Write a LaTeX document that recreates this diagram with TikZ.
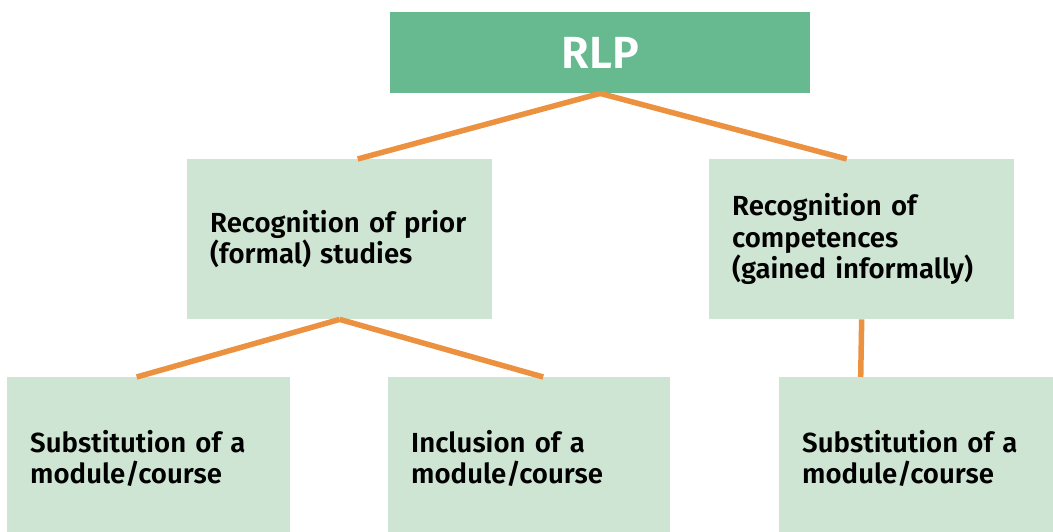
\documentclass[tikz,border=0pt]{standalone}
\usepackage{fontspec}
\setmainfont{Fira Sans}[UprightFont={* Medium},BoldFont={* SemiBold}]
\usetikzlibrary{calc}
\definecolor{dkgreen}{HTML}{67BA8F}
\definecolor{ltgreen}{HTML}{CFE5D3}
\definecolor{conn}{HTML}{EB913F}
\begin{document}
\begin{tikzpicture}[x=1pt,y=-1pt,
  box/.style={fill=ltgreen,draw=none,inner xsep=23pt,inner ysep=0pt,align=left,
    font=\bfseries\fontsize{27.6}{31.5}\selectfont,text=black,anchor=north west},
  link/.style={draw=conn,line width=5.5pt}]
\useasboundingbox (0,0) rectangle (1053,532);
\clip (0,0) rectangle (1053,532);
\node[fill=dkgreen,minimum width=420pt,minimum height=81pt,inner sep=0pt,anchor=north west,
  text=white,font=\bfseries\fontsize{45}{50}\selectfont] (rlp) at (390,12) {RLP};
\node[box,text width=259pt,minimum height=160pt] (lm) at (187,159) {Recognition of prior\\(formal) studies};
\node[box,text width=259pt,minimum height=160pt] (rm) at (709,159) {Recognition of\\competences\\(gained informally)};
\node[box,text width=237pt,minimum height=162pt] (bl) at (7,377) {Substitution of a\\module/course};
\node[box,text width=236pt,minimum height=162pt] (bm) at (388,377) {Inclusion of a\\module/course};
\node[box,text width=237pt,minimum height=162pt] (br) at (779,377) {Substitution of a\\module/course};
\coordinate (lmt) at ($(lm.north)+(18,0)$);
\coordinate (rmt) at ($(rm.north)+(-15,0)$);
\coordinate (blt) at ($(bl.north)+(-12,0)$);
\coordinate (bmt) at ($(bm.north)+(14,0)$);
\coordinate (brt) at ($(br.north)+(-60,0)$);
\draw[link] (rlp.south) -- (lmt);
\draw[link] (rlp.south) -- (rmt);
\draw[link] (lm.south) -- (blt);
\draw[link] (lm.south) -- (bmt);
\draw[link] (rm.south) -- (brt);
\end{tikzpicture}
\end{document}
